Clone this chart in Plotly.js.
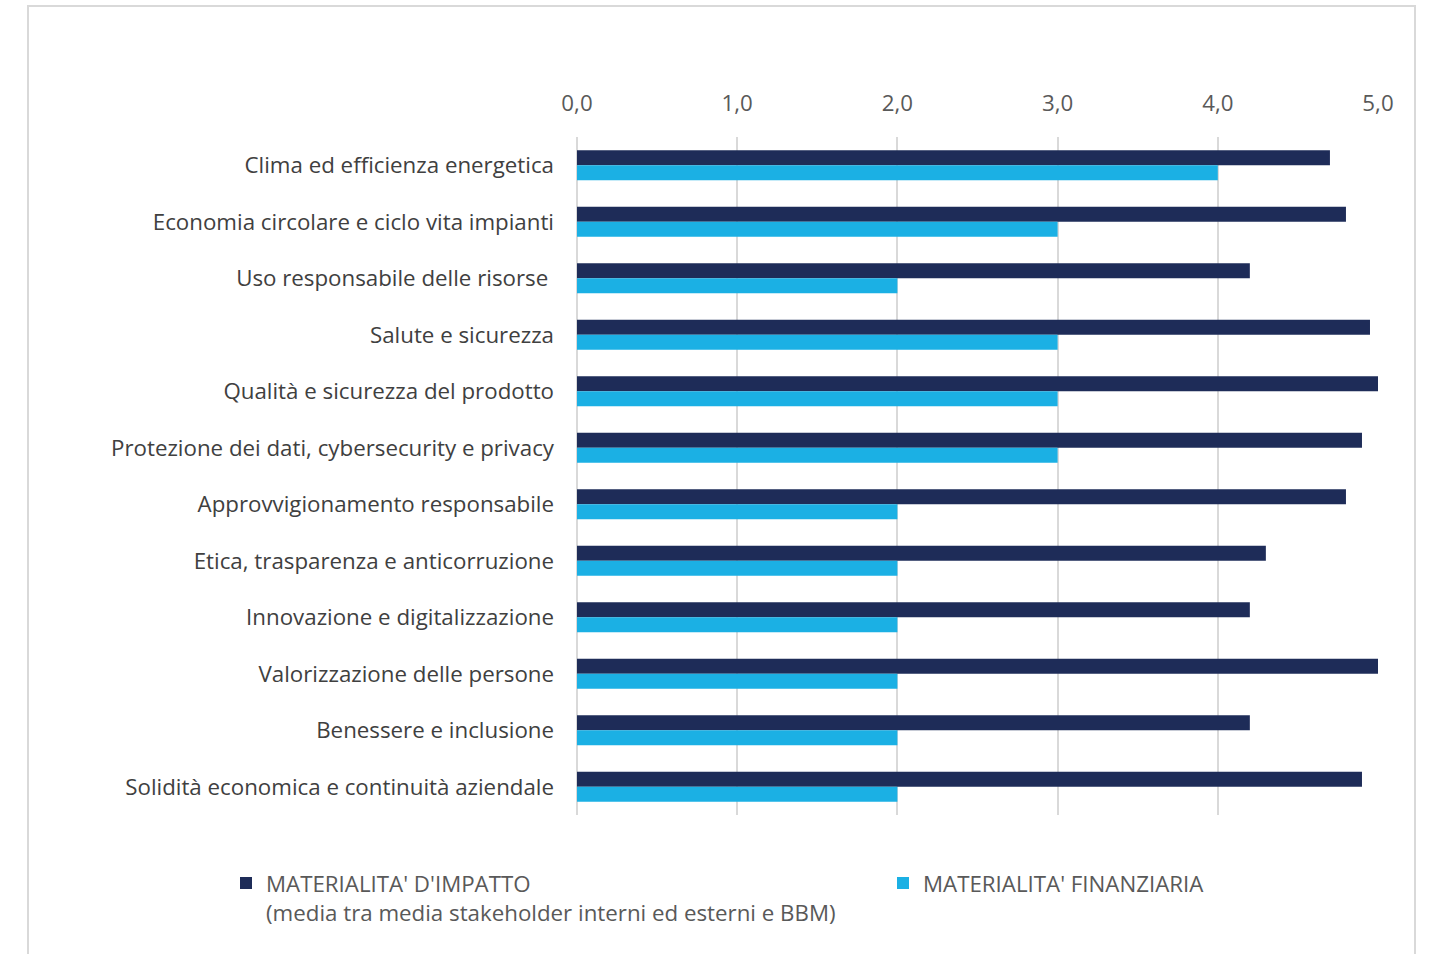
<!DOCTYPE html>
<html>
<head>
<meta charset="utf-8">
<script src="https://cdn.plot.ly/plotly-3.0.1.min.js"></script>
<style>html,body{margin:0;padding:0;background:#fff;}#chart{width:1431px;height:954px;}</style>
</head>
<body>
<div id="chart"></div>
<script>
const categories = [
  "Clima ed efficienza energetica",
  "Economia circolare e ciclo vita impianti",
  "Uso responsabile delle risorse\u00a0",
  "Salute e sicurezza",
  "Qualità e sicurezza del prodotto",
  "Protezione dei dati, cybersecurity e privacy",
  "Approvvigionamento responsabile",
  "Etica, trasparenza e anticorruzione",
  "Innovazione e digitalizzazione",
  "Valorizzazione delle persone",
  "Benessere e inclusione",
  "Solidità economica e continuità aziendale"
];
const impatto = [4.7, 4.8, 4.2, 4.95, 5.0, 4.9, 4.8, 4.3, 4.2, 5.0, 4.2, 4.9];
const finanziaria = [4.0, 3.0, 2.0, 3.0, 3.0, 3.0, 2.0, 2.0, 2.0, 2.0, 2.0, 2.0];
const tickVals = [0, 1, 2, 3, 4, 5];
const seriesNames = [
  "MATERIALITA' D'IMPATTO<br>(media tra media stakeholder interni ed esterni e BBM)",
  "MATERIALITA' FINANZIARIA"
];

const font = "Open Sans, DejaVu Sans, sans-serif";
const FS = 22.3;
const traces = [
  {type: 'bar', orientation: 'h', y: categories, x: impatto, name: seriesNames[0],
   marker: {color: '#1e2c58'}, legend: 'legend'},
  {type: 'bar', orientation: 'h', y: categories, x: finanziaria, name: seriesNames[1],
   marker: {color: '#1bb0e4'}, legend: 'legend2'}
];
const L = 577, R = 1378, T = 137, B = 815;
const pw = R - L, ph = B - T;
const px = v => (v - L) / pw;
const py = v => (B - v) / ph;
const legendBase = {
  orientation: 'h', xanchor: 'left', yanchor: 'top',
  font: {family: font, size: FS, color: '#595959'}, valign: 'top',
  bgcolor: 'rgba(0,0,0,0)', itemclick: false, itemdoubleclick: false
};
const layout = {
  width: 1431, height: 954,
  margin: {l: L, r: 1431 - R, t: T, b: 954 - B, pad: 0},
  paper_bgcolor: '#ffffff', plot_bgcolor: '#ffffff',
  separators: ',.',
  barmode: 'group', bargap: 0.47, bargroupgap: 0,
  font: {family: font, size: FS, color: '#595959'},
  xaxis: {
    side: 'top', range: [0, 5], tickvals: tickVals, tickformat: '.1f',
    showgrid: true, gridcolor: '#d9d9d9', gridwidth: 2,
    zeroline: true, zerolinecolor: '#d9d9d9', zerolinewidth: 2,
    showline: false, ticks: '', ticklabelstandoff: 21,
    tickfont: {family: font, size: FS, color: '#595959'}, fixedrange: true
  },
  yaxis: {
    autorange: 'reversed', showgrid: false, zeroline: false, showline: false,
    ticks: '', ticklabelstandoff: 22,
    tickfont: {family: font, size: FS, color: '#404040'}, fixedrange: true
  },
  showlegend: true,
  legend: Object.assign({}, legendBase, {x: px(226), y: py(862)}),
  legend2: Object.assign({}, legendBase, {x: px(883), y: py(862)}),
  shapes: [{
    type: 'rect', xref: 'paper', yref: 'paper',
    x0: px(28), x1: px(1415), y0: py(6), y1: py(975),
    line: {color: '#d9d9d9', width: 2}, fillcolor: 'rgba(0,0,0,0)', layer: 'below'
  }]
};
Plotly.newPlot('chart', traces, layout, {displayModeBar: false, staticPlot: true});
</script>
</body>
</html>
